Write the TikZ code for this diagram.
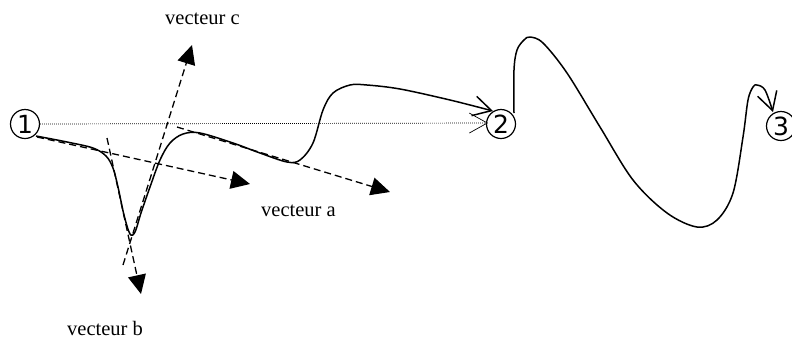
\documentclass[tikz,border=0pt]{standalone}
\usepackage{fontspec}
\setmainfont{Liberation Serif}
\newfontfamily\numfont{DejaVu Sans}
\usetikzlibrary{arrows.meta}
\tikzset{
  num/.style={circle, draw, line width=1.2pt, minimum size=29pt, inner sep=0pt,
    font=\numfont\fontsize{25}{25}\selectfont},
  lbl/.style={inner sep=0pt, anchor=base west, font=\fontsize{20.5}{24}\selectfont},
  curve/.style={line width=1.5pt, line join=round, -{Straight Barb[length=18pt,width=20pt]}},
  vec/.style={line width=1.3pt, dash pattern=on 7pt off 4pt, -{Triangle[length=19pt,width=18pt]}},
  guide/.style={line width=0.7pt, black, dash pattern=on 0.7pt off 1.3pt,
    -{Straight Barb[length=18pt,width=20pt]}}
}
\begin{document}
\begin{tikzpicture}[x=1pt,y=-1pt]
\useasboundingbox (0,0) rectangle (792,341);
\node[num] (n1) at (25,124) {1};
\node[num] (n2) at (501,124) {2};
\node[num] (n3) at (781,126) {3};
\coordinate (d2) at (488,123);
\draw[guide] (n1.east) -- (d2);
% curve 1 -> 2
\draw[curve] plot[smooth, tension=0.55] coordinates {
 (36,136) (67,142) (93,148) (106,156) (113,168) (118,187) (124,215) (130,234)
 (135,232) (141,213) (150,187) (160,160) (170,143) (183,134) (200,133) (233,143)
 (260,153) (287,162) (300,160) (313,143) (323,110) (333,93) (350,85) (367,85)
 (400,89) (450,100) (493,111)};
% curve 2 -> 3
\draw[curve] plot[smooth, tension=0.55] coordinates {
 (514,113) (514,70) (517,50) (524,40) (530,37) (543,43) (567,73) (600,127)
 (633,180) (667,213) (697,227) (717,220) (733,193) (743,137) (748,100) (753,87)
 (757,85) (765,90) (773,112)};
% vectors
\coordinate (a1s) at (37,137);
\coordinate (a1e) at (250,184);
\coordinate (a2s) at (177,127);
\coordinate (a2e) at (390,192);
\coordinate (bs) at (107,138);
\coordinate (be) at (141,294);
\coordinate (cs) at (123,265);
\coordinate (ce) at (192,45);
\draw[vec] (a1s) -- (a1e);
\draw[vec] (a2s) -- (a2e);
\draw[vec] (bs) -- (be);
\draw[vec] (cs) -- (ce);
\node[lbl] (lc) at (165,24.5) {vecteur c};
\node[lbl] (la) at (261,216.5) {vecteur a};
\node[lbl] (lb) at (67,335) {vecteur b};
\end{tikzpicture}
\end{document}
